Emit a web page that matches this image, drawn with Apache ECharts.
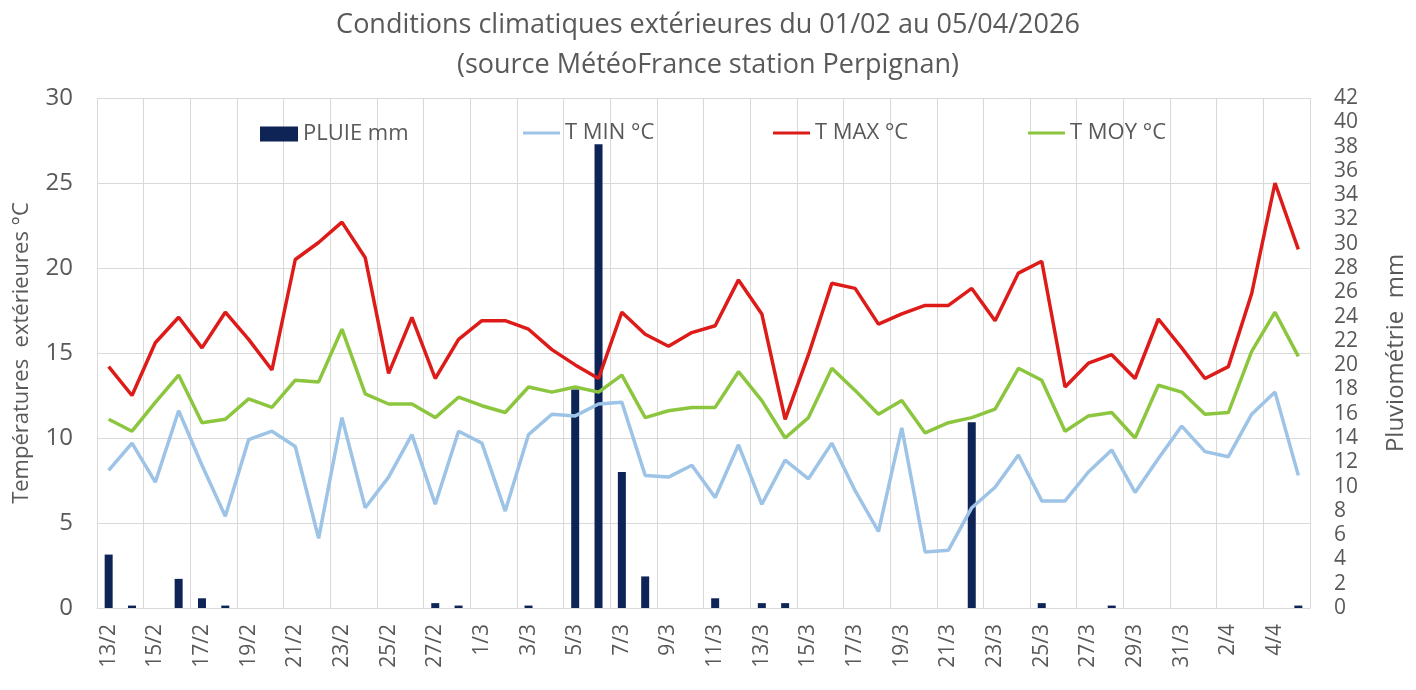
<!DOCTYPE html>
<html>
<head>
<meta charset="utf-8">
<script src="https://cdn.jsdelivr.net/npm/echarts@6/dist/echarts.min.js"></script>
<style>
html,body{margin:0;padding:0;background:#fff;}
#chart{width:1416px;height:690px;}
</style>
</head>
<body>
<div id="chart"></div>
<script>
const categories = ["13/2","14/2","15/2","16/2","17/2","18/2","19/2","20/2","21/2","22/2","23/2","24/2","25/2","26/2","27/2","28/2",
"1/3","2/3","3/3","4/3","5/3","6/3","7/3","8/3","9/3","10/3","11/3","12/3","13/3","14/3","15/3","16/3","17/3","18/3","19/3","20/3",
"21/3","22/3","23/3","24/3","25/3","26/3","27/3","28/3","29/3","30/3","31/3","1/4","2/4","3/4","4/4","5/4"];

const pluie = [4.4,0.2,0,2.4,0.8,0.2,0,0,0,0,0,0,0,0,0.4,0.2,
0,0,0.2,0,18.0,38.2,11.2,2.6,0,0,0.8,0,0.4,0.4,0,0,0,0,0,0,
0,15.3,0,0,0.4,0,0,0.2,0,0,0,0,0,0,0,0.2];

const tMin = [8.1,9.7,7.4,11.6,8.4,5.4,9.9,10.4,9.5,4.1,11.2,5.9,7.7,10.2,6.1,10.4,
9.7,5.7,10.2,11.4,11.3,12.0,12.1,7.8,7.7,8.4,6.5,9.6,6.1,8.7,7.6,9.7,6.9,4.5,10.6,3.3,
3.4,5.9,7.1,9.0,6.3,6.3,8.0,9.3,6.8,8.8,10.7,9.2,8.9,11.4,12.7,7.8];

const tMax = [14.2,12.5,15.6,17.1,15.3,17.4,15.8,14.0,20.5,21.5,22.7,20.6,13.8,17.1,13.5,15.8,
16.9,16.9,16.4,15.2,14.3,13.5,17.4,16.1,15.4,16.2,16.6,19.3,17.3,11.1,14.9,19.1,18.8,16.7,17.3,17.8,
17.8,18.8,16.9,19.7,20.4,13.0,14.4,14.9,13.5,17.0,15.3,13.5,14.2,18.5,25.0,21.1];

const tMoy = [11.1,10.4,12.1,13.7,10.9,11.1,12.3,11.8,13.4,13.3,16.4,12.6,12.0,12.0,11.2,12.4,
11.9,11.5,13.0,12.7,13.0,12.7,13.7,11.2,11.6,11.8,11.8,13.9,12.2,10.0,11.2,14.1,12.8,11.4,12.2,10.3,
10.9,11.2,11.7,14.1,13.4,10.4,11.3,11.5,10.0,13.1,12.7,11.4,11.5,15.1,17.4,14.8];

const tempTicks = {min:0, max:30, interval:5};
const rainTicks = {min:0, max:42, interval:2};

const txt = '#595959';
const font = '"Open Sans", "Liberation Sans", sans-serif';
const legendText = {fontFamily:font, fontSize:22, color:txt};

const chart = echarts.init(document.getElementById('chart'), null, {renderer:'canvas'});
chart.setOption({
  backgroundColor:'#fff',
  animation:false,
  title:{
    text:'Conditions climatiques extérieures du 01/02 au 05/04/2026\n(source MétéoFrance station Perpignan)',
    left:'center', top:0,
    textStyle:{fontFamily:font, fontSize:27, fontWeight:'normal', color:txt, lineHeight:40}
  },
  legend:[
    {data:['PLUIE mm'], left:255, top:118, itemWidth:38, itemHeight:15, itemGap:4, icon:'rect',
     textStyle:legendText},
    {data:['T MIN °C'], left:518, top:117, itemWidth:37, itemHeight:3, itemGap:2, icon:'rect',
     textStyle:legendText},
    {data:['T MAX °C'], left:768, top:117, itemWidth:37, itemHeight:3, itemGap:2, icon:'rect',
     textStyle:legendText},
    {data:['T MOY °C'], left:1023, top:117, itemWidth:37, itemHeight:3, itemGap:2, icon:'rect',
     textStyle:legendText}
  ],
  grid:{left:97, right:104, top:98, bottom:82, containLabel:false},
  xAxis:{
    type:'category', data:categories, boundaryGap:true,
    axisLine:{show:true, lineStyle:{color:'#D9D9D9'}},
    axisTick:{show:false, interval:1},
    axisLabel:{interval:1, rotate:90, fontFamily:font, fontSize:21, color:txt, margin:16},
    splitLine:{show:true, interval:1, lineStyle:{color:'#D9D9D9', width:1}}
  },
  yAxis:[
    {type:'value', min:tempTicks.min, max:tempTicks.max, interval:tempTicks.interval,
     name:'Températures  extérieures °C', nameLocation:'middle', nameGap:64, nameRotate:90,
     nameTextStyle:{fontFamily:font, fontSize:22, color:txt},
     axisLine:{show:false}, axisTick:{show:false},
     axisLabel:{fontFamily:font, fontSize:24, color:txt, margin:24},
     splitLine:{show:true, lineStyle:{color:'#D9D9D9', width:1}}},
    {type:'value', min:rainTicks.min, max:rainTicks.max, interval:rainTicks.interval, position:'right',
     name:'Pluviométrie  mm', nameLocation:'middle', nameGap:74, nameRotate:90,
     nameTextStyle:{fontFamily:font, fontSize:24, color:txt},
     axisLine:{show:false}, axisTick:{show:false},
     axisLabel:{fontFamily:font, fontSize:21, color:txt, margin:24},
     splitLine:{show:false}}
  ],
  series:[
    {name:'PLUIE mm', type:'bar', yAxisIndex:1, data:pluie, barWidth:8,
     itemStyle:{color:'#0E2356'}, z:1},
    {name:'T MIN °C', type:'line', yAxisIndex:0, data:tMin, symbol:'none',
     lineStyle:{color:'#9DC3E6', width:3.5}, itemStyle:{color:'#9DC3E6'}, z:2},
    {name:'T MAX °C', type:'line', yAxisIndex:0, data:tMax, symbol:'none',
     lineStyle:{color:'#DD1C1A', width:3.5}, itemStyle:{color:'#DD1C1A'}, z:3},
    {name:'T MOY °C', type:'line', yAxisIndex:0, data:tMoy, symbol:'none',
     lineStyle:{color:'#8CC63F', width:3.5}, itemStyle:{color:'#8CC63F'}, z:3}
  ]
});
</script>
</body>
</html>
